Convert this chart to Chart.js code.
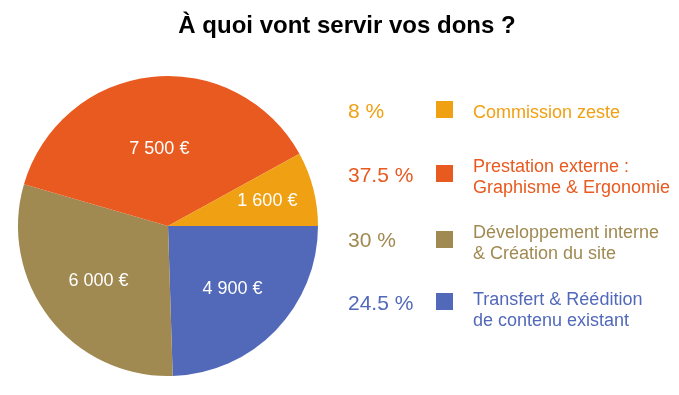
<!DOCTYPE html>
<html>
<head>
<meta charset="utf-8">
<script src="https://cdn.jsdelivr.net/npm/chart.js@4.4.1/dist/chart.umd.min.js"></script>
<style>
  html, body { margin: 0; padding: 0; background: #ffffff; }
  #wrap { position: relative; width: 679px; height: 395px; }
</style>
</head>
<body>
<div id="wrap"><canvas id="c" width="679" height="395"></canvas></div>
<script>
// ---- data (legend order) ----
const chartTitle = 'À quoi vont servir vos dons ?';
const categories = [
  ['Commission zeste'],
  ['Prestation externe :', 'Graphisme & Ergonomie'],
  ['Développement interne', '& Création du site'],
  ['Transfert & Réédition', 'de contenu existant']
];
const amounts = [1600, 7500, 6000, 4900];
const amountLabels = ['1 600 €', '7 500 €', '6 000 €', '4 900 €'];
const percentLabels = ['8 %', '37.5 %', '30 %', '24.5 %'];
const colors = ['#F0A013', '#E85A1F', '#A08A52', '#5269BA'];

// ---- layout / style (not data) ----
const FONT = '"Liberation Sans", Arial, Helvetica, sans-serif';
const legendRows = [
  { pctY: 118, sqY: 101, labY: 118 },
  { pctY: 182, sqY: 165, labY: 172 },
  { pctY: 247, sqY: 231, labY: 238 },
  { pctY: 310, sqY: 293, labY: 305 }
];
const labelLineHeight = 21;
const labelRadiusFrac = [0.684, 0.525, 0.587, 0.599]; // legend order

// Chart.js draws clockwise from 3 o'clock (rotation 90); reference runs counter-clockwise
const order = [3, 2, 1, 0];

const overlay = {
  id: 'overlay',
  afterDatasetsDraw(chart) {
    const ctx = chart.ctx;
    const meta = chart.getDatasetMeta(0);
    ctx.save();
    // slice labels
    ctx.fillStyle = '#ffffff';
    ctx.font = '18px ' + FONT;
    ctx.textAlign = 'center';
    ctx.textBaseline = 'middle';
    meta.data.forEach((arc, i) => {
      const idx = order[i];
      const p = arc.getProps(['x', 'y', 'startAngle', 'endAngle', 'outerRadius'], true);
      const mid = (p.startAngle + p.endAngle) / 2;
      const r = p.outerRadius * labelRadiusFrac[idx];
      ctx.fillText(amountLabels[idx], p.x + Math.cos(mid) * r, p.y + Math.sin(mid) * r + 1);
    });
    // title
    ctx.fillStyle = '#000000';
    ctx.font = 'bold 24px ' + FONT;
    ctx.textAlign = 'center';
    ctx.textBaseline = 'alphabetic';
    ctx.fillText(chartTitle, 347, 33);
    // legend
    ctx.textAlign = 'left';
    categories.forEach((lines, i) => {
      const row = legendRows[i];
      ctx.fillStyle = colors[i];
      ctx.font = '21px ' + FONT;
      ctx.fillText(percentLabels[i], 348, row.pctY);
      ctx.fillRect(436, row.sqY, 17, 17);
      ctx.font = '18px ' + FONT;
      lines.forEach((t, k) => ctx.fillText(t, 473, row.labY + k * labelLineHeight));
    });
    ctx.restore();
  }
};

new Chart(document.getElementById('c'), {
  type: 'pie',
  data: {
    labels: order.map(i => categories[i].join(' ')),
    datasets: [{
      data: order.map(i => amounts[i]),
      backgroundColor: order.map(i => colors[i]),
      borderWidth: 0
    }]
  },
  options: {
    responsive: false,
    animation: false,
    rotation: 90,
    layout: { padding: { left: 18, top: 76, right: 361, bottom: 19 } },
    plugins: { legend: { display: false }, title: { display: false }, tooltip: { enabled: false } }
  },
  plugins: [overlay]
});
</script>
</body>
</html>
